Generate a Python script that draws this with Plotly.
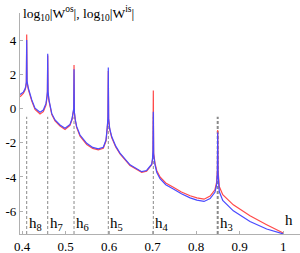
import plotly.graph_objects as go

# shared h grid
h_vals = [
    0.395, 0.3995, 0.4025, 0.406, 0.408, 0.4095, 0.4103,
    0.4111, 0.414, 0.418, 0.4218, 0.4294, 0.4409, 0.4485, 0.4547, 0.457, 0.4579, 0.4586,
    0.4594, 0.4615, 0.4639, 0.468, 0.4754, 0.4869, 0.4984, 0.5099, 0.5145, 0.5175, 0.5184, 0.5191,
    0.5199, 0.522, 0.5253, 0.5329, 0.5483, 0.562, 0.5749, 0.5864, 0.5926, 0.5956, 0.597, 0.5979,
    0.5987, 0.601, 0.6057, 0.615, 0.6248, 0.6478, 0.6747, 0.686, 0.6938, 0.6977, 0.6995, 0.7006, 0.7014,
    0.7022, 0.7053, 0.7092, 0.7168, 0.730, 0.7474, 0.766, 0.786, 0.8015, 0.818, 0.832, 0.843, 0.847, 0.8487, 0.8494,
    0.8502, 0.853, 0.861, 0.8853, 0.9236, 0.962, 1.0,
]

log_w_os = [
    0.69, 0.78, 0.88, 1.05, 1.22, 1.5, 4.33,
    1.55, 1.12, 0.75, 0.45, -0.05, -0.32, -0.18, 0.2, 0.65, 0.95, 3.1,
    0.95, 0.45, 0.05, -0.35, -0.72, -1.02, -1.22, -0.98, -0.65, -0.3, -0.05, 2.54,
    -0.25, -0.7, -1.12, -1.62, -2.1, -2.33, -2.42, -2.32, -1.9, -1.12, -0.6, 2.2,
    -0.65, -1.2, -1.7, -2.25, -2.65, -3.33, -3.73, -3.66, -3.43, -3.29, -2.99, -2.55, 1.06,
    -2.6, -3.2, -3.62, -4.0, -4.35, -4.6, -4.88, -5.1, -5.22, -5.3, -5.12, -4.75, -4.3, -3.6, -1.25,
    -3.6, -4.56, -5.04, -5.63, -6.27, -6.79, -7.28,
]

log_w_is = [
    0.82, 0.88, 0.96, 1.12, 1.28, 1.55, 4.00,
    1.6, 1.2, 0.82, 0.52, 0.02, -0.22, -0.09, 0.3, 0.75, 1.0, 3.2,
    1.0, 0.5, 0.1, -0.3, -0.67, -0.96, -1.15, -0.93, -0.6, -0.25, 0.0, 2.29,
    -0.2, -0.65, -1.06, -1.55, -2.03, -2.27, -2.36, -2.26, -1.84, -1.06, -0.55, 2.40,
    -0.6, -1.15, -1.64, -2.2, -2.61, -3.29, -3.69, -3.62, -3.39, -3.25, -2.95, -2.5, -0.19,
    -2.7, -3.3, -3.72, -4.1, -4.45, -4.7, -4.98, -5.22, -5.35, -5.43, -5.26, -4.9, -4.45, -3.75, -1.4,
    -3.8, -4.85, -5.37, -5.98, -6.6, -7.04, -7.33,
]

peak_h = [0.4103, 0.4586, 0.5191, 0.5979, 0.7014, 0.8494]
peak_labels = ["h<sub>8</sub>", "h<sub>7</sub>", "h<sub>6</sub>", "h<sub>5</sub>", "h<sub>4</sub>", "h<sub>3</sub>"]
dash_top = -0.48

x_tickvals = [0.4, 0.5, 0.6, 0.7, 0.8, 0.9, 1.0]
x_ticktext = ["0.4", "0.5", "0.6", "0.7", "0.8", "0.9", "1"]
y_tickvals = [4, 2, 0, -2, -4, -6]
y_ticktext = ["4", "2", "0", "-2", "-4", "-6"]

X_RANGE = [0.3949, 1.0386]
Y_RANGE = [-7.335, 5.586]

FONT = "Liberation Serif"

fig = go.Figure()

# dashed guide lines
for i, hp in enumerate(peak_h):
    fig.add_trace(go.Scatter(
        x=[hp, hp], y=[Y_RANGE[0], dash_top], mode="lines",
        line=dict(color="#8a8a8a", width=2 if i == len(peak_h) - 1 else 1, dash="3px,2px"),
        hoverinfo="skip", showlegend=False))

fig.add_trace(go.Scatter(x=h_vals, y=log_w_os, mode="lines",
                         line=dict(color="#ff4a4a", width=1.2), showlegend=False))
fig.add_trace(go.Scatter(x=h_vals, y=log_w_is, mode="lines",
                         line=dict(color="#4a4aff", width=1.2), showlegend=False))

for hp, lab in zip(peak_h, peak_labels):
    fig.add_annotation(x=hp, y=-6.75, text=lab, showarrow=False, xanchor="left",
                       yanchor="middle", xshift=0,
                       font=dict(family=FONT, size=15, color="black"))

fig.add_annotation(x=1.0136, y=-6.5, text="h", showarrow=False, xanchor="center",
                   yanchor="middle", font=dict(family=FONT, size=15, color="black"))

fig.add_annotation(x=X_RANGE[0], xshift=1, y=1.0, yref="paper", yanchor="middle",
                   xanchor="left",
                   text="log<sub>10</sub>|W<sup>os</sup>|, log<sub>10</sub>|W<sup>is</sup>|",
                   showarrow=False, font=dict(family=FONT, size=13.5, color="black"))

fig.update_xaxes(range=X_RANGE, showgrid=False, zeroline=False, showline=True,
                 linecolor="#b0b0b0", linewidth=1.3, ticks="inside", ticklen=3,
                 tickcolor="#b0b0b0", tickvals=x_tickvals, ticktext=x_ticktext,
                 automargin=False,
                 tickfont=dict(family=FONT, size=13, color="black"))
fig.update_yaxes(range=Y_RANGE, showgrid=False, zeroline=False, showline=True,
                 linecolor="#b0b0b0", linewidth=1.3, ticks="inside", ticklen=3,
                 tickcolor="#b0b0b0", tickvals=y_tickvals, ticktext=y_ticktext,
                 automargin=False,
                 tickfont=dict(family=FONT, size=13, color="black"))

fig.update_layout(width=300, height=253, margin=dict(l=20, r=0, t=13, b=19),
                  plot_bgcolor="white", paper_bgcolor="white",
                  font=dict(family=FONT))

fig.write_html("out.html", config={"displayModeBar": False},
               post_script="document.body.style.margin='0';document.body.style.padding='0';")
